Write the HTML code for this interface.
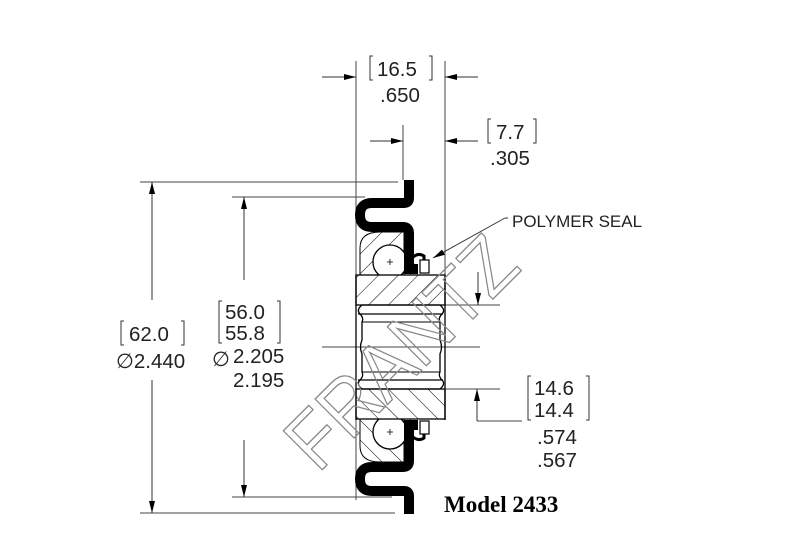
<!DOCTYPE html>
<html><head><meta charset="utf-8"><style>
html,body{margin:0;padding:0;background:#fff}
svg{display:block}
.t{font-family:"Liberation Sans",sans-serif;font-size:20.5px;fill:#222}
</style></head><body>
<svg width="809" height="542" viewBox="0 0 809 542" xmlns="http://www.w3.org/2000/svg">
<defs>
<pattern id="h" patternUnits="userSpaceOnUse" width="14" height="14" patternTransform="rotate(45)">
<rect width="14" height="14" fill="#fff"/><line x1="0" y1="0" x2="0" y2="14" stroke="#000" stroke-width="1"/>
</pattern>
<marker id="a" viewBox="0 0 12 6" refX="12" refY="3" markerWidth="12" markerHeight="6" orient="auto" markerUnits="userSpaceOnUse"><path d="M0,0L12,3L0,6z" fill="#000"/></marker>
<g id="half">
<path d="M360,275 V248 Q360,232 380,232 H404 V275 Z" fill="url(#h)" stroke="#000" stroke-width="1"/>
<circle cx="390" cy="262" r="17" fill="#fff" stroke="#000" stroke-width="1.3"/>
<path d="M387,262h6M390,259v6" stroke="#000" stroke-width="0.8"/>
<path d="M409,180 V198 Q409,203 404,203 H372 Q360,203 360,215 Q360,227 372,227 H403 Q409,227 409,233 V262 Q409,268 413,270" fill="none" stroke="#000" stroke-width="10"/>
<rect x="404" y="264" width="14" height="10" fill="#000"/>
<path d="M412,258 Q418,252 424,256 V262" fill="none" stroke="#000" stroke-width="3"/>
<rect x="420" y="260" width="9" height="13" fill="#fff" stroke="#000" stroke-width="1.2"/>
<rect x="356" y="275" width="89" height="30" fill="url(#h)" stroke="#000" stroke-width="1.3"/>
</g>
</defs>
<g stroke="#444" stroke-width="1" fill="none">
<line x1="356" y1="61" x2="356" y2="500"/>
<line x1="445" y1="61" x2="445" y2="420"/>
<line x1="403" y1="125" x2="403" y2="180"/>
<line x1="140" y1="182" x2="398" y2="182"/>
<line x1="232" y1="197" x2="365" y2="197"/>
<line x1="232" y1="497" x2="392" y2="497"/>
<line x1="140" y1="513" x2="395" y2="513"/>
<line x1="322" y1="347" x2="480" y2="347"/>
<line x1="445" y1="305" x2="500" y2="305"/>
<line x1="445" y1="389" x2="500" y2="389"/>
<line x1="477" y1="421" x2="522" y2="421"/>
</g>
<g stroke="#333" stroke-width="1" fill="none" marker-end="url(#a)">
<line x1="322" y1="77" x2="356" y2="77"/>
<line x1="478" y1="77" x2="445" y2="77"/>
<line x1="370" y1="141" x2="403" y2="141"/>
<line x1="478" y1="141" x2="445" y2="141"/>
<line x1="152" y1="300" x2="152" y2="182"/>
<line x1="152" y1="380" x2="152" y2="513"/>
<line x1="244" y1="280" x2="244" y2="197"/>
<line x1="244" y1="440" x2="244" y2="497"/>
<line x1="478" y1="272" x2="478" y2="305"/>
<line x1="477" y1="421" x2="477" y2="389"/>
<line x1="505" y1="218" x2="433" y2="258"/>
</g>
<line x1="505" y1="218" x2="508" y2="218" stroke="#333"/>
<use href="#half"/>
<use href="#half" transform="translate(0,694) scale(1,-1)"/>
<g stroke="#000" stroke-width="1.3" fill="none">
<path d="M356,275 V420"/>
<path d="M445,275 V420"/>
<path d="M362,305 H440 M358,314 H443 M358,380 H443 M362,389 H440"/>
<path d="M362,305 Q356,310 360,314 Q364,318 362,322 V340 Q359,347 362,354 V372 Q364,376 360,380 Q356,384 362,389"/>
<path d="M440,305 Q446,310 442,314 Q438,318 440,322 V340 Q443,347 440,354 V372 Q438,376 442,380 Q446,384 440,389"/>
<path d="M362,322 H440 M362,372 H440" stroke-width="1"/>
</g>
<text x="0" y="0" transform="translate(318,474) rotate(-45)" font-family="Liberation Sans,sans-serif" font-size="80" fill="none" stroke="#888" stroke-width="1.3" textLength="290" lengthAdjust="spacingAndGlyphs">FRANTZ</text>
<g stroke="#333" stroke-width="1" fill="none">
<path d="M373,56h-3v24h3 M429,56h3v24h-3"/>
<path d="M491,119h-3v24h3 M533,119h3v24h-3"/>
<path d="M124,321h-3v24h3 M181,321h3v24h-3"/>
<path d="M222,301h-3v42h3 M277,301h3v42h-3"/>
<path d="M531,376h-3v44h3 M586,376h3v44h-3"/>
</g>
<text class="t" x="377" y="76">16.5</text>
<text class="t" x="380" y="102">.650</text>
<text class="t" x="496" y="139">7.7</text>
<text class="t" x="490" y="165">.305</text>
<text class="t" x="129" y="341">62.0</text>
<text class="t" x="116" y="368">∅2.440</text>
<text class="t" x="225" y="319">56.0</text>
<text class="t" x="225" y="340">55.8</text>
<text class="t" x="212" y="366">∅</text>
<text class="t" x="233" y="363">2.205</text>
<text class="t" x="233" y="387">2.195</text>
<text class="t" x="534" y="395">14.6</text>
<text class="t" x="534" y="417">14.4</text>
<text class="t" x="537" y="444">.574</text>
<text class="t" x="537" y="467">.567</text>
<text class="t" x="512" y="227" style="font-size:17px">POLYMER SEAL</text>
<text x="444" y="512" font-family="Liberation Serif,serif" font-weight="bold" font-size="23" fill="#000">Model 2433</text>
</svg>
</body></html>
